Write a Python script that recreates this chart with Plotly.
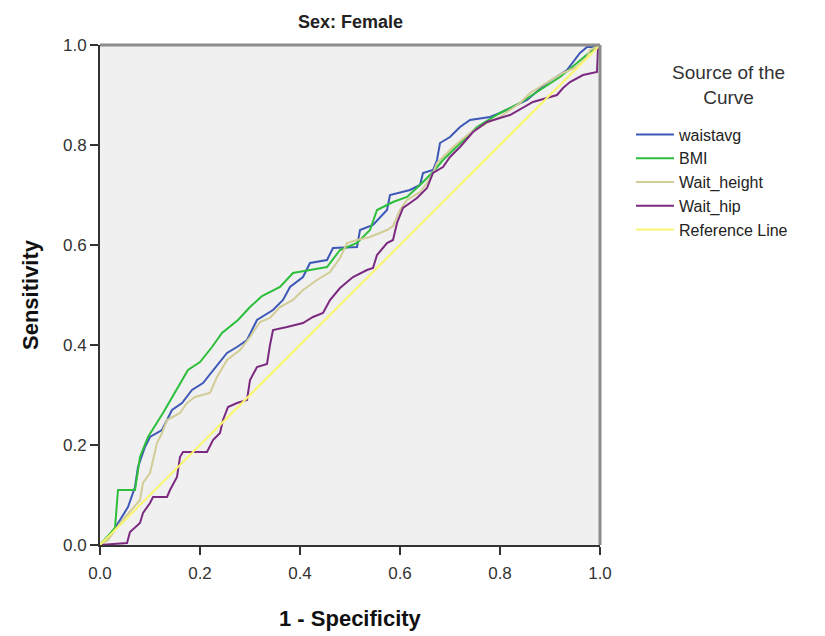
import plotly.graph_objects as go

# ROC curve vertices (1 - specificity, sensitivity)
waist_x = [0, 0.024, 0.04, 0.056, 0.07, 0.076, 0.09, 0.1, 0.124, 0.144, 0.164, 0.184, 0.206, 0.226,
           0.254, 0.274, 0.294, 0.314, 0.346, 0.366, 0.38, 0.406, 0.42, 0.454, 0.466, 0.514, 0.52,
           0.546, 0.574, 0.58, 0.62, 0.64, 0.646, 0.666, 0.674, 0.68, 0.7, 0.72, 0.74, 0.78, 0.8,
           0.854, 0.894, 0.934, 0.96, 0.974, 0.994, 1]
waist_y = [0, 0.024, 0.05, 0.076, 0.116, 0.156, 0.196, 0.216, 0.23, 0.27, 0.284, 0.31, 0.324, 0.35,
           0.384, 0.396, 0.41, 0.45, 0.47, 0.49, 0.516, 0.536, 0.564, 0.57, 0.594, 0.596, 0.63,
           0.64, 0.67, 0.7, 0.71, 0.72, 0.744, 0.75, 0.77, 0.804, 0.816, 0.836, 0.85, 0.856, 0.864,
           0.89, 0.924, 0.95, 0.984, 0.996, 0.996, 1]

bmi_x = [0, 0.03, 0.036, 0.07, 0.08, 0.096, 0.126, 0.15, 0.176, 0.2, 0.224, 0.244, 0.276, 0.3,
         0.324, 0.36, 0.386, 0.42, 0.454, 0.48, 0.514, 0.54, 0.554, 0.586, 0.614, 0.64, 0.666,
         0.686, 0.706, 0.726, 0.754, 0.8, 0.84, 0.88, 0.92, 0.954, 0.98, 1]
bmi_y = [0, 0.034, 0.11, 0.11, 0.176, 0.216, 0.264, 0.304, 0.35, 0.366, 0.396, 0.424, 0.45, 0.476,
         0.498, 0.516, 0.544, 0.55, 0.556, 0.59, 0.604, 0.63, 0.67, 0.686, 0.696, 0.72, 0.746,
         0.77, 0.79, 0.81, 0.836, 0.864, 0.884, 0.91, 0.936, 0.964, 0.986, 1]

wh_x = [0, 0.016, 0.03, 0.054, 0.08, 0.086, 0.1, 0.114, 0.124, 0.134, 0.16, 0.174, 0.19, 0.22,
        0.234, 0.254, 0.28, 0.3, 0.32, 0.34, 0.36, 0.386, 0.406, 0.434, 0.46, 0.48, 0.494, 0.514,
        0.54, 0.574, 0.586, 0.6, 0.614, 0.64, 0.654, 0.666, 0.674, 0.706, 0.74, 0.774, 0.8, 0.84,
        0.86, 0.894, 0.926, 0.954, 0.974, 0.98, 1]
wh_y = [0, 0.01, 0.03, 0.06, 0.09, 0.124, 0.144, 0.204, 0.224, 0.25, 0.264, 0.284, 0.296, 0.304,
        0.336, 0.37, 0.39, 0.416, 0.446, 0.454, 0.476, 0.49, 0.51, 0.53, 0.546, 0.574, 0.604, 0.61,
        0.616, 0.63, 0.638, 0.67, 0.69, 0.706, 0.724, 0.744, 0.764, 0.796, 0.824, 0.844, 0.856,
        0.884, 0.904, 0.924, 0.944, 0.956, 0.976, 0.99, 1]

hip_x = [0, 0.054, 0.06, 0.08, 0.086, 0.1, 0.106, 0.134, 0.14, 0.154, 0.16, 0.166, 0.214, 0.226,
         0.24, 0.246, 0.256, 0.274, 0.294, 0.3, 0.314, 0.334, 0.34, 0.346, 0.374, 0.406, 0.426,
         0.446, 0.46, 0.48, 0.506, 0.534, 0.546, 0.554, 0.574, 0.586, 0.594, 0.606, 0.62, 0.634,
         0.654, 0.666, 0.686, 0.7, 0.72, 0.746, 0.774, 0.82, 0.866, 0.894, 0.914, 0.926, 0.94,
         0.966, 0.994, 0.996, 1]
hip_y = [0, 0.004, 0.026, 0.044, 0.064, 0.084, 0.096, 0.096, 0.11, 0.136, 0.176, 0.186, 0.186, 0.21,
         0.224, 0.25, 0.276, 0.284, 0.29, 0.33, 0.356, 0.362, 0.4, 0.43, 0.436, 0.444, 0.456,
         0.464, 0.49, 0.514, 0.536, 0.55, 0.554, 0.58, 0.604, 0.61, 0.644, 0.674, 0.684, 0.694,
         0.714, 0.744, 0.756, 0.776, 0.796, 0.826, 0.846, 0.86, 0.886, 0.894, 0.9, 0.914, 0.926,
         0.94, 0.946, 0.994, 1]

ref_x = [0, 1]
ref_y = [0, 1]

tick_vals = [0.0, 0.2, 0.4, 0.6, 0.8, 1.0]
tick_text = ["0.0", "0.2", "0.4", "0.6", "0.8", "1.0"]

series = [
    ("waistavg", waist_x, waist_y, "#3E58B8"),
    ("BMI", bmi_x, bmi_y, "#2DBE3C"),
    ("Wait_height", wh_x, wh_y, "#D2CC96"),
    ("Wait_hip", hip_x, hip_y, "#7B2A80"),
    ("Reference Line", ref_x, ref_y, "#FAF56E"),
]

fig = go.Figure()
for name, xs, ys, col in series:
    fig.add_trace(go.Scatter(x=xs, y=ys, mode="lines", name=name,
                             line=dict(color=col, width=2)))

font = "Liberation Sans, Arial, sans-serif"
fig.update_layout(
    width=817, height=628,
    margin=dict(l=92, r=225, t=37, b=91, autoexpand=False),
    paper_bgcolor="white",
    plot_bgcolor="#F0F0F0",
    font=dict(family=font, color="#222222"),
    showlegend=True,
    legend=dict(x=1.062, xanchor="left", y=0.855, yanchor="top",
                bgcolor="rgba(0,0,0,0)",
                font=dict(size=16, color="#222222"),
                tracegroupgap=0, itemwidth=38),
)
fig.update_xaxes(range=[0, 1], tickvals=tick_vals, ticktext=tick_text, automargin=False,
                 showgrid=False, zeroline=False, showline=True, linecolor="#333333", linewidth=2,
                 ticks="outside", ticklen=8, tickwidth=2, tickcolor="#333333",
                 ticklabelstandoff=4,
                 tickfont=dict(size=17, color="#333333"))
fig.update_yaxes(range=[0, 1], tickvals=tick_vals, ticktext=tick_text, automargin=False,
                 showgrid=False, zeroline=False, showline=True, linecolor="#333333", linewidth=2,
                 ticks="outside", ticklen=8, tickwidth=2, tickcolor="#333333",
                 tickfont=dict(size=17, color="#333333"))
# top / right frame of plot area
fig.add_shape(type="line", xref="paper", yref="paper", x0=0, x1=1, y0=1, y1=1,
              line=dict(color="#8C8C8C", width=3))
fig.add_shape(type="line", xref="paper", yref="paper", x0=1, x1=1, y0=0, y1=1,
              line=dict(color="#8C8C8C", width=3))

# titles
fig.add_annotation(text="<b>Sex: Female</b>", xref="paper", yref="paper", x=0.5, y=1.046,
                   xanchor="center", yanchor="middle", showarrow=False,
                   font=dict(size=18, color="#222222"))
fig.add_annotation(text="<b>1 - Specificity</b>", xref="paper", yref="paper", x=0.5, y=-0.146,
                   xanchor="center", yanchor="middle", showarrow=False,
                   font=dict(size=22, color="#111111"))
fig.add_annotation(text="<b>Sensitivity</b>", xref="paper", yref="paper", x=-0.14, y=0.5,
                   xanchor="center", yanchor="middle", showarrow=False, textangle=-90,
                   font=dict(size=22, color="#111111"))
fig.add_annotation(text="Source of the<br>Curve", xref="paper", yref="paper", x=1.256, y=0.92,
                   xanchor="center", yanchor="middle", showarrow=False,
                   font=dict(size=19, color="#333333"))

fig.write_html("out.html")
